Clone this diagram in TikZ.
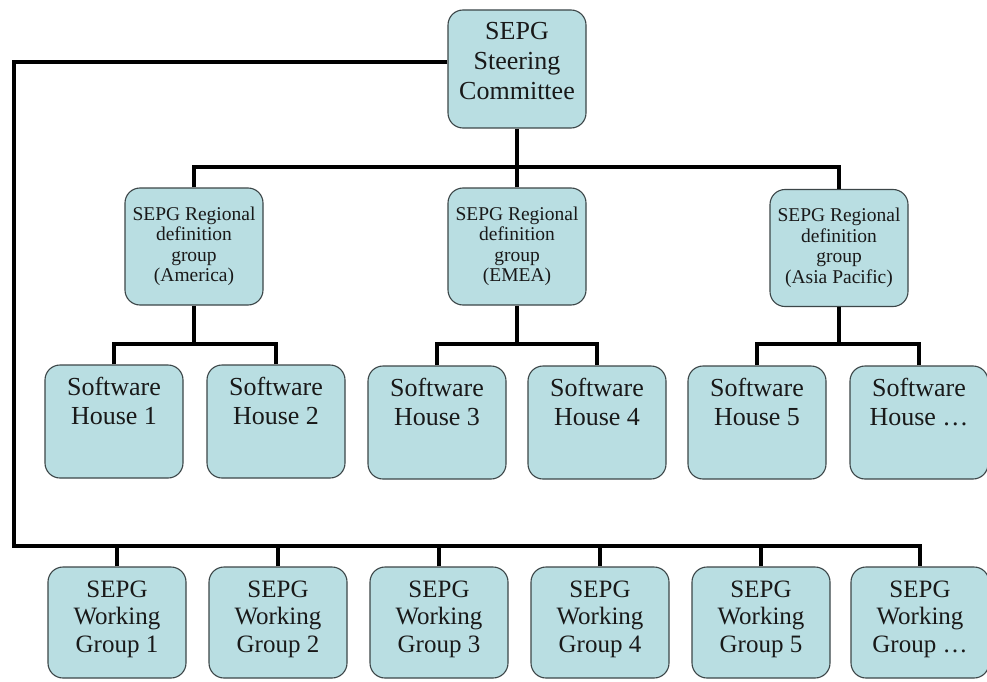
\documentclass[tikz,border=0pt]{standalone}
\usepackage{fontspec}
\setmainfont{Liberation Serif}
\definecolor{boxfill}{RGB}{185,222,226}
\definecolor{boxline}{RGB}{60,70,72}
\definecolor{txt}{RGB}{25,25,25}
\begin{document}
\begin{tikzpicture}[x=1pt,y=-1pt,
  box/.style={draw=boxline, line width=1.1pt, fill=boxfill, rounded corners=15pt, inner sep=0pt, minimum width=138pt, text=txt, align=center},
  steerbox/.style={box, minimum height=118pt},
  regbox/.style={box, minimum height=117pt, font=\fontsize{19.5}{20.5}\selectfont},
  shbox/.style={box, minimum height=113pt},
  wgbox/.style={box, minimum height=111pt},
  stlbl/.style={inner sep=0pt, anchor=north, yshift=-13pt, align=center, text=txt, font=\fontsize{26}{30}\selectfont},
  shlbl/.style={inner sep=0pt, anchor=north, yshift=-13pt, align=center, text=txt, font=\fontsize{26}{29}\selectfont},
  wglbl/.style={inner sep=0pt, anchor=north, yshift=-14pt, align=center, text=txt, font=\fontsize{25}{27.5}\selectfont},
  conn/.style={draw=black, line width=4.5pt}]
\useasboundingbox[fill=white] (0,0) rectangle (987,682);

% nodes
\node[steerbox, label={[stlbl]north:SEPG\\Steering\\Committee}] (steer) at (517,69) {};

\node[regbox] (reg1) at (194,246.5) {SEPG Regional\\definition\\group\\(America)};
\node[regbox] (reg2) at (517,246.5) {SEPG Regional\\definition\\group\\(EMEA)};
\node[regbox] (reg3) at (839,248) {SEPG Regional\\definition\\group\\(Asia Pacific)};

\node[shbox, label={[shlbl]north:Software\\House 1}] (sh1) at (114,421.5) {};
\node[shbox, label={[shlbl]north:Software\\House 2}] (sh2) at (276,421.5) {};
\node[shbox, label={[shlbl]north:Software\\House 3}] (sh3) at (437,422.5) {};
\node[shbox, label={[shlbl]north:Software\\House 4}] (sh4) at (597,422.5) {};
\node[shbox, label={[shlbl]north:Software\\House 5}] (sh5) at (757,422.5) {};
\node[shbox, label={[shlbl]north:Software\\House \dots}] (sh6) at (919,422.5) {};

\node[wgbox, label={[wglbl]north:SEPG\\Working\\Group 1}] (wg1) at (117,622.5) {};
\node[wgbox, label={[wglbl]north:SEPG\\Working\\Group 2}] (wg2) at (278,622.5) {};
\node[wgbox, label={[wglbl]north:SEPG\\Working\\Group 3}] (wg3) at (439,622.5) {};
\node[wgbox, label={[wglbl]north:SEPG\\Working\\Group 4}] (wg4) at (600,622.5) {};
\node[wgbox, label={[wglbl]north:SEPG\\Working\\Group 5}] (wg5) at (761,622.5) {};
\node[wgbox, label={[wglbl]north:SEPG\\Working\\Group \dots}] (wg6) at (920,622.5) {};

% junction coordinates
\coordinate (top) at (517,167);
\coordinate (m1) at (194,344);
\coordinate (m2) at (517,344);
\coordinate (m3) at (839,344);
\coordinate (lc) at (14,546);
\coordinate (lt) at (14,62);

% connectors
\draw[conn] (steer.south) -- (top);
\draw[conn] (reg1.north) |- (top);
\draw[conn] (reg2.north) -- (top);
\draw[conn] (reg3.north) |- (top);

\draw[conn] (reg1.south) -- (m1);
\draw[conn] (sh1.north) |- (m1);
\draw[conn] (sh2.north) |- (m1);
\draw[conn] (reg2.south) -- (m2);
\draw[conn] (sh3.north) |- (m2);
\draw[conn] (sh4.north) |- (m2);
\draw[conn] (reg3.south) -- (m3);
\draw[conn] (sh5.north) |- (m3);
\draw[conn] (sh6.north) |- (m3);

\draw[conn] (steer.west |- lt) -- (lt) -- (lc) -| (wg6.north);
\draw[conn] (wg1.north) |- (lc);
\draw[conn] (wg2.north) |- (lc);
\draw[conn] (wg3.north) |- (lc);
\draw[conn] (wg4.north) |- (lc);
\draw[conn] (wg5.north) |- (lc);
\end{tikzpicture}
\end{document}
